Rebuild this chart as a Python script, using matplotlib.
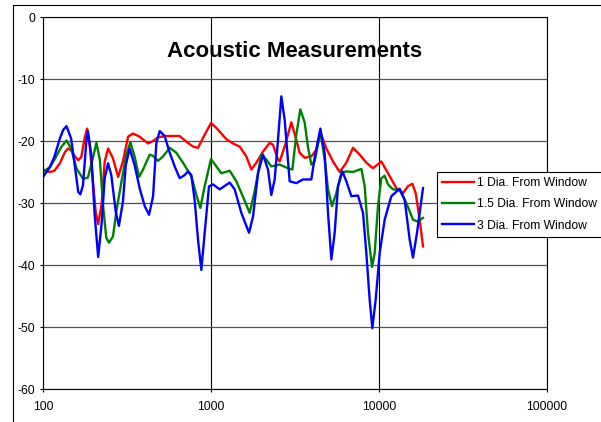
import matplotlib
matplotlib.use("Agg")
import matplotlib.pyplot as plt
from matplotlib.lines import Line2D
from matplotlib.ticker import FixedLocator, FixedFormatter, NullLocator

plt.rcParams["font.family"] = ["Liberation Sans", "DejaVu Sans"]


# =========================
# Measurement data (Hz, dB)
# =========================
freq_1dia = [100, 110, 117, 126, 135, 141, 147, 154, 162, 169, 177, 183, 190, 199, 206,
             213, 223, 233, 244, 261, 280, 299, 321, 343, 376, 422, 452, 484, 542, 651,
             713, 782, 837, 896, 1000, 1076, 1234, 1352, 1482, 1624, 1739, 1862, 2040,
             2235, 2339, 2505, 2563, 2745, 3008, 3219, 3370, 3610, 3956, 4237, 4476,
             4859, 5325, 5833, 6392, 7003, 7673, 8408, 9211, 10325, 11312, 12685, 13895,
             14883, 15790, 16530, 17469, 18275]
db_1dia = [-24.6, -25.0, -24.8, -23.6, -21.8, -21.2, -21.5, -22.4, -23.1, -22.6, -19.5,
           -18.0, -21.0, -27.0, -31.5, -33.4, -30.3, -23.3, -21.2, -22.8, -25.8, -23.3,
           -19.3, -18.8, -19.3, -20.4, -20.0, -19.4, -19.2, -19.2, -20.1, -20.9, -21.1,
           -19.5, -17.1, -17.9, -19.7, -20.4, -20.9, -22.5, -24.6, -23.5, -21.7, -20.3,
           -20.6, -23.0, -23.3, -20.9, -17.0, -19.8, -21.9, -22.7, -22.5, -21.4, -18.6,
           -21.2, -23.3, -25.0, -23.5, -21.1, -22.2, -23.5, -24.4, -23.3, -25.2, -27.6,
           -28.4, -27.3, -26.9, -28.4, -32.7, -37.0]

freq_15dia = [100, 110, 117, 129, 138, 147, 158, 173, 185, 199, 208, 218, 228, 238, 247,
              261, 273, 293, 313, 331, 351, 373, 394, 432, 452, 484, 518, 568, 622, 681,
              764, 818, 864, 917, 1000, 1076, 1152, 1292, 1415, 1551, 1699, 1820, 1994,
              2135, 2286, 2563, 2873, 3049, 3219, 3401, 3610, 3779, 3956, 4141, 4476,
              4750, 4972, 5252, 5572, 5968, 6392, 7003, 7851, 8219, 8602, 9087, 9424,
              9863, 10325, 10807, 11312, 12115, 13274, 14546, 15937, 17070, 18275]
db_15dia = [-25.0, -24.2, -23.0, -20.9, -19.9, -21.2, -24.4, -26.1, -25.9, -22.5, -20.3,
            -23.0, -30.5, -35.6, -36.4, -35.4, -31.4, -26.6, -22.3, -20.2, -22.5, -25.8,
            -24.6, -22.2, -22.4, -23.2, -22.5, -21.1, -21.9, -23.5, -25.7, -28.7, -30.8,
            -27.3, -22.9, -24.1, -25.2, -24.8, -26.5, -29.0, -31.6, -28.1, -22.2, -23.0,
            -24.1, -23.8, -24.4, -24.6, -19.0, -14.9, -17.0, -21.0, -23.8, -23.3, -18.5,
            -23.0, -27.8, -30.5, -28.4, -25.2, -24.9, -25.0, -24.5, -27.3, -34.8, -40.3,
            -38.1, -30.5, -26.0, -25.6, -27.0, -27.8, -27.9, -30.0, -32.7, -33.0, -32.4]

freq_3dia = [100, 110, 117, 126, 132, 138, 147, 154, 162, 167, 173, 181, 185, 194, 203,
             213, 223, 233, 244, 255, 271, 283, 299, 311, 328, 351, 376, 403, 428, 452,
             473, 495, 530, 568, 608, 651, 697, 730, 764, 799, 837, 876, 917, 973, 1028,
             1126, 1292, 1383, 1516, 1684, 1778, 1906, 2040, 2184, 2286, 2393, 2505,
             2622, 2745, 2940, 3219, 3528, 3956, 4141, 4476, 4750, 4972, 5205, 5448,
             5702, 6050, 6392, 6845, 7499, 8032, 8408, 8799, 9128, 9554, 10092, 10807,
             11841, 13274, 14218, 15227, 15937, 16834, 18275]
db_3dia = [-25.8, -24.2, -22.5, -19.6, -18.2, -17.6, -19.6, -23.6, -28.2, -28.6, -27.1,
           -20.1, -18.4, -22.3, -31.9, -38.7, -33.5, -26.0, -23.6, -25.5, -31.4, -33.7,
           -29.8, -23.9, -21.2, -23.9, -27.6, -30.5, -31.9, -28.9, -20.3, -18.4, -19.2,
           -21.9, -24.1, -26.0, -25.5, -24.9, -25.5, -29.5, -35.9, -40.8, -34.8, -27.3,
           -27.0, -27.8, -26.7, -27.8, -31.6, -34.8, -32.2, -25.2, -22.2, -24.6, -28.7,
           -26.2, -19.8, -12.8, -16.6, -26.5, -26.8, -26.2, -26.2, -22.7, -18.0, -22.0,
           -31.6, -39.1, -34.8, -27.3, -24.9, -26.5, -28.9, -28.8, -31.6, -38.1, -45.6,
           -50.2, -45.6, -38.1, -32.7, -28.9, -27.7, -29.5, -35.9, -38.8, -34.8, -27.6]

series_labels = ["1 Dia. From Window", "1.5 Dia. From Window", "3 Dia. From Window"]
x_ticks = [100, 1000, 10000, 100000]
x_tick_labels = ["100", "1000", "10000", "100000"]
y_ticks = [0, -10, -20, -30, -40, -50, -60]


# =========================
# Figure and plot area
# =========================
W, H = 601, 422
fig = plt.figure(figsize=(W / 100, H / 100), dpi=100)
fig.patch.set_facecolor("white")

# chart area border (left and top edges)
fig.add_artist(Line2D([13 / W, 13 / W], [0, 1 - 5 / H], color="black", lw=0.8))
fig.add_artist(Line2D([13 / W, 1], [1 - 5 / H, 1 - 5 / H], color="black", lw=0.8))

ax = fig.add_axes([43 / W, 1 - 389 / H, (547 - 43) / W, (389 - 17) / H])

ax.set_xscale("log")
ax.set_xlim(100, 100000)
ax.set_ylim(-60, 0)

ax.xaxis.set_major_locator(FixedLocator(x_ticks))
ax.xaxis.set_major_formatter(FixedFormatter(x_tick_labels))
ax.xaxis.set_minor_locator(NullLocator())
ax.set_yticks(y_ticks)
ax.set_yticklabels([str(v) for v in y_ticks])

ax.grid(axis="y", color="#505050", lw=0.9)
ax.grid(axis="x", color="black", lw=0.8)
ax.set_axisbelow(True)

for spine in ax.spines.values():
    spine.set_color("black")
    spine.set_linewidth(0.8)

ax.tick_params(axis="both", direction="out", length=2.2, width=0.8,
               labelsize=8.7, colors="black")
ax.tick_params(axis="x", pad=6.3)
ax.tick_params(axis="y", pad=3.6)


# =========================
# Curves
# =========================
ax.plot(freq_1dia, db_1dia, color="#ff0000", lw=1.7, label=series_labels[0],
        solid_joinstyle="round")
ax.plot(freq_15dia, db_15dia, color="#008000", lw=1.7, label=series_labels[1],
        solid_joinstyle="round")
ax.plot(freq_3dia, db_3dia, color="#0000ff", lw=1.7, label=series_labels[2],
        solid_joinstyle="round")

fig.text(295 / W, 1 - 57 / H, "Acoustic Measurements", ha="center", va="baseline",
         fontsize=16, fontweight="bold")

leg = ax.legend(loc="upper left", bbox_to_anchor=(437 / W, 1 - 172 / H),
                bbox_transform=fig.transFigure, borderaxespad=0,
                fancybox=False, framealpha=1, edgecolor="black",
                fontsize=8.7, handlelength=2.7, handletextpad=0.25,
                labelspacing=0.78, borderpad=0.4)
leg.get_frame().set_linewidth(0.8)

fig.savefig("out.png", dpi=100)
